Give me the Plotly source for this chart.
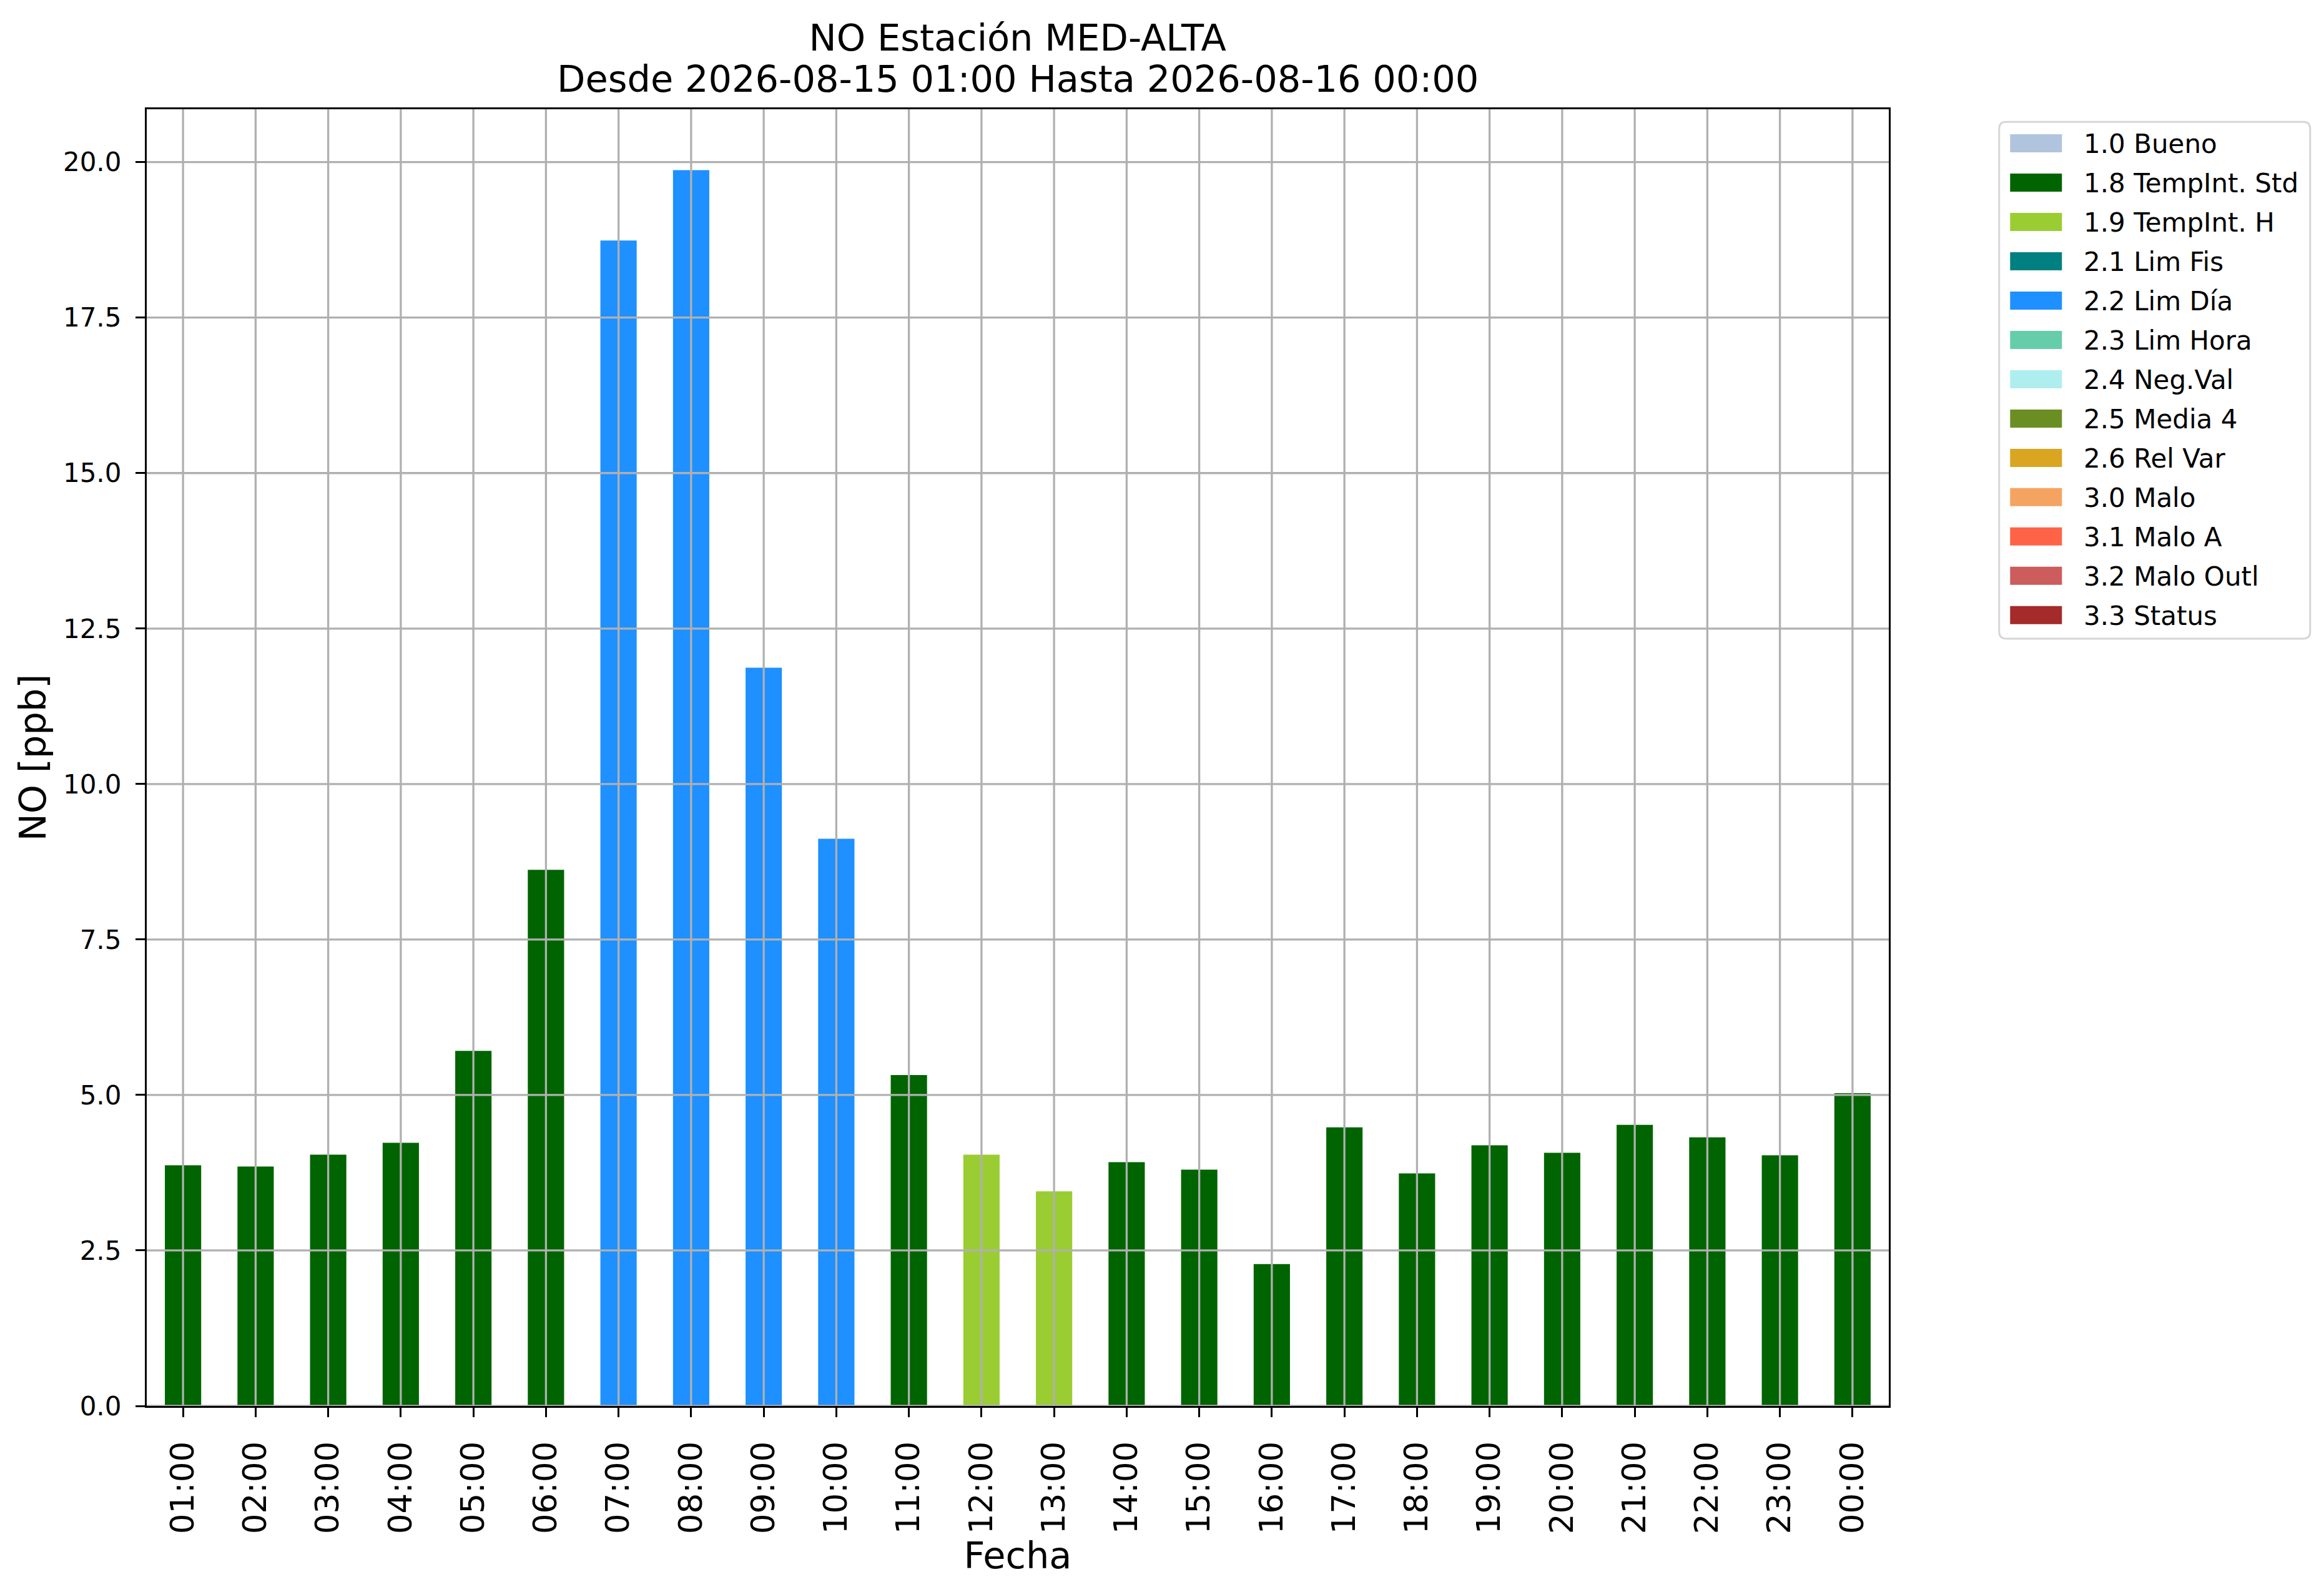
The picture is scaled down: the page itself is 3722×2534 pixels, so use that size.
import plotly.graph_objects as go

# ---- data ----
hours = ["01:00", "02:00", "03:00", "04:00", "05:00", "06:00", "07:00", "08:00",
         "09:00", "10:00", "11:00", "12:00", "13:00", "14:00", "15:00", "16:00",
         "17:00", "18:00", "19:00", "20:00", "21:00", "22:00", "23:00", "00:00"]
no_values = [3.87, 3.85, 4.04, 4.23, 5.71, 8.62, 18.74, 19.87,
             11.87, 9.12, 5.32, 4.04, 3.45, 3.92, 3.80, 2.28,
             4.48, 3.74, 4.19, 4.07, 4.52, 4.32, 4.03, 5.03]
flags = ["1.8", "1.8", "1.8", "1.8", "1.8", "1.8", "2.2", "2.2",
         "2.2", "2.2", "1.8", "1.9", "1.9", "1.8", "1.8", "1.8",
         "1.8", "1.8", "1.8", "1.8", "1.8", "1.8", "1.8", "1.8"]

flag_codes = ["1.0", "1.8", "1.9", "2.1", "2.2", "2.3", "2.4", "2.5", "2.6",
              "3.0", "3.1", "3.2", "3.3"]
flag_names = ["1.0 Bueno", "1.8 TempInt. Std", "1.9 TempInt. H", "2.1 Lim Fis",
              "2.2 Lim Día", "2.3 Lim Hora", "2.4 Neg.Val", "2.5 Media 4",
              "2.6 Rel Var", "3.0 Malo", "3.1 Malo A", "3.2 Malo Outl", "3.3 Status"]
flag_colors = ["#B0C4DE", "#006400", "#9ACD32", "#008080", "#1E90FF", "#66CDAA",
               "#AFEEEE", "#6B8E23", "#DAA520", "#F4A460", "#FF6347", "#CD5C5C",
               "#A52A2A"]

y_ticks = [0.0, 2.5, 5.0, 7.5, 10.0, 12.5, 15.0, 17.5, 20.0]

title_line1 = "NO Estación MED-ALTA"
title_line2 = "Desde 2026-08-15 01:00 Hasta 2026-08-16 00:00"

# ---- figure geometry (pixels) ----
W, H = 3722, 2534
FONT = "DejaVu Sans"
GRID = "#b0b0b0"
LW = 3.3
TITLE_SIZE = 59
ml, mr, mt, mb = 226.7, W - 3016.7, 166.7, H - 2244.5
pw, ph = W - ml - mr, H - mt - mb


def px_x(x):
    return (x - ml) / pw


def px_y(y):
    return (H - mb - y) / ph


fig = go.Figure()
for code, name, color in zip(flag_codes, flag_names, flag_colors):
    ys = [v if f == code else None for v, f in zip(no_values, flags)]
    fig.add_trace(go.Bar(
        x=hours, y=ys, name=name, width=0.5,
        marker=dict(color=color, line=dict(width=0)),
        showlegend=False,
    ))

# grid lines drawn above the bars (as in the reference)
for h in hours:
    fig.add_shape(type="line", xref="x", yref="paper", x0=h, x1=h, y0=0, y1=1,
                  line=dict(color=GRID, width=LW), layer="above")
for t in y_ticks:
    fig.add_shape(type="line", xref="paper", yref="y", x0=0, x1=1, y0=t, y1=t,
                  line=dict(color=GRID, width=LW), layer="above")

# legend box (matplotlib style, rounded frame, outside the axes on the right)
LEG_L, LEG_T, LEG_R, LEG_B, RAD = 3193.5, 187, 3691.5, 1015, 11
x0, x1 = px_x(LEG_L), px_x(LEG_R)
y0, y1 = px_y(LEG_B), px_y(LEG_T)
rx, ry = RAD / pw, RAD / ph
path = (f"M {x0 + rx},{y1} L {x1 - rx},{y1} Q {x1},{y1} {x1},{y1 - ry} "
        f"L {x1},{y0 + ry} Q {x1},{y0} {x1 - rx},{y0} "
        f"L {x0 + rx},{y0} Q {x0},{y0} {x0},{y0 + ry} "
        f"L {x0},{y1 - ry} Q {x0},{y1} {x0 + rx},{y1} Z")
fig.add_shape(type="path", xref="paper", yref="paper", path=path,
              line=dict(color="#d6d6d6", width=3), fillcolor="white", layer="above")
row0, row_gap = 221.3, 63.0
for i, (name, color) in enumerate(zip(flag_names, flag_colors)):
    yc = row0 + i * row_gap
    fig.add_shape(type="rect", xref="paper", yref="paper",
                  x0=px_x(3211), x1=px_x(3294),
                  y0=px_y(yc + 14.5), y1=px_y(yc - 14.5),
                  line=dict(width=0), fillcolor=color, layer="above")
    fig.add_annotation(xref="paper", yref="paper", x=px_x(3327), y=px_y(yc + 1),
                       text=name, showarrow=False, xanchor="left", yanchor="middle",
                       font=dict(size=42, family=FONT, color="black"))

# second title line
fig.add_annotation(xref="paper", yref="paper", x=0.5, y=px_y(118),
                   text=title_line2, showarrow=False, xanchor="center",
                   yanchor="middle",
                   font=dict(size=TITLE_SIZE, family=FONT, color="black"))

fig.update_layout(
    width=W, height=H, autosize=False,
    margin=dict(l=ml, r=mr, t=mt, b=mb, pad=0),
    paper_bgcolor="white", plot_bgcolor="white",
    font=dict(family=FONT, color="black"),
    barmode="overlay", showlegend=False,
    title=dict(text=title_line1,
               x=(ml + pw / 2) / W, xanchor="center",
               y=1 - 52 / H, yanchor="middle", yref="container",
               font=dict(size=TITLE_SIZE, family=FONT, color="black")),
    xaxis=dict(
        type="category", range=[-0.5, len(hours) - 0.5],
        showgrid=False, zeroline=False,
        showline=True, linecolor="black", linewidth=LW, mirror=True,
        ticks="outside", ticklen=15, tickwidth=LW, tickcolor="black",
        tickangle=-90, tickfont=dict(size=51.5, family=FONT),
        ticklabelstandoff=18,
        title=dict(text="Fecha", font=dict(size=59, family=FONT), standoff=0),
    ),
    yaxis=dict(
        range=[0, 20.85], tickvals=y_ticks,
        ticktext=[f"{t:.1f}" for t in y_ticks],
        showgrid=False, zeroline=False,
        showline=True, linecolor="black", linewidth=LW, mirror=True,
        ticks="outside", ticklen=15, tickwidth=LW, tickcolor="black",
        tickfont=dict(size=42, family=FONT),
        ticklabelstandoff=14,
        title=dict(text="NO [ppb]", font=dict(size=59, family=FONT), standoff=9),
    ),
)

fig.write_html("out.html")
